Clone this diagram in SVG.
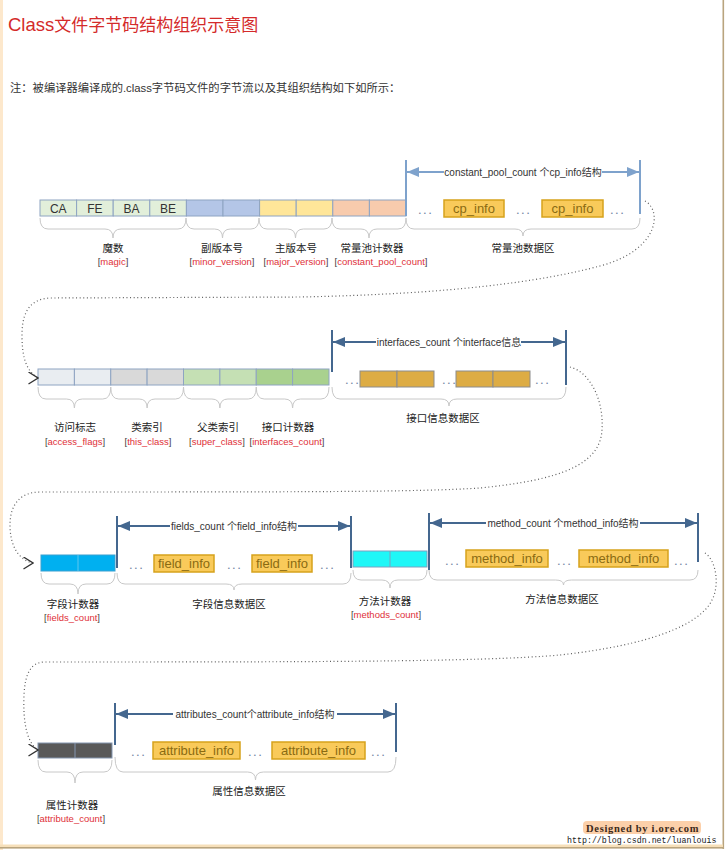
<svg xmlns="http://www.w3.org/2000/svg" width="726" height="850" viewBox="0 0 726 850">
<style>
text{font-family:"Liberation Sans","Noto Sans CJK SC",sans-serif}
.cn{font-size:10.5px;fill:#222;text-anchor:middle}
.rl{font-size:9.5px;fill:#e03038;text-anchor:middle}
.br{fill:#444}
.ann{font-size:10px;fill:#333;text-anchor:middle}
.bt{font-size:12px;fill:#333;text-anchor:middle}
.it{font-size:13px;fill:#8a6a12;text-anchor:middle}
.dots{font-size:13px;fill:#6f83a3;letter-spacing:1.5px}
.cell{stroke:#8ea4c2;stroke-width:1}
.info{fill:#f9ca5a;stroke:#d6a21c;stroke-width:1.5}
.ifb{fill:#ddac44;stroke:#8c8c8c;stroke-width:1}
.brace{fill:none;stroke:#c8c8c8;stroke-width:1}
.v1{stroke:#7ea2cc;stroke-width:2}
.v2{stroke:#44678f;stroke-width:2}
.a1{stroke:#7ea2cc;stroke-width:2;marker-start:url(#ah1);marker-end:url(#ah1)}
.a2{stroke:#44678f;stroke-width:2;marker-start:url(#ah2);marker-end:url(#ah2)}
.dot{fill:none;stroke:#5e5e5e;stroke-width:1.2;stroke-dasharray:1 2.6;marker-end:url(#chev)}
.wm1{font-family:"Liberation Serif",serif;font-weight:bold;font-size:10.5px;fill:#3c2a1a;letter-spacing:0.7px}
.wm2{font-family:"Liberation Mono",monospace;font-size:8.3px;fill:#222}
</style>
<defs>
<marker id="ah1" viewBox="0 0 12 10" refX="12" refY="5" markerWidth="12" markerHeight="10" markerUnits="userSpaceOnUse" orient="auto-start-reverse"><path d="M0,0 L12,5 L0,10 z" fill="#7ea2cc"/></marker>
<marker id="ah2" viewBox="0 0 12 10" refX="12" refY="5" markerWidth="12" markerHeight="10" markerUnits="userSpaceOnUse" orient="auto-start-reverse"><path d="M0,0 L12,5 L0,10 z" fill="#44678f"/></marker>
<marker id="chev" viewBox="0 0 11 13" refX="10" refY="6.5" markerWidth="11" markerHeight="13" markerUnits="userSpaceOnUse" orient="0"><path d="M0.5,0.5 L10,6.5 L0.5,12.5" fill="none" stroke="#333" stroke-width="1.3"/></marker>
</defs>
<rect x="0" y="0" width="726" height="850" fill="#ffffff"/>
<rect x="0" y="0" width="3" height="850" fill="#fde8cc"/>
<rect x="722.5" y="0" width="1.6" height="849" fill="#b9a47e"/>
<rect x="0" y="844.5" width="723" height="2.5" fill="#f6dfb9"/>
<rect x="0" y="847" width="724" height="1.6" fill="#b9a47e"/>

<g id="title"><text x="8" y="31" font-size="17" fill="#d42a2a"><tspan font-size="18.5">Class</tspan>文件字节码结构组织示意图</text></g>
<g id="note"><text x="10" y="92" font-size="11.3" fill="#333">注：被编译器编译成的.class字节码文件的字节流以及其组织结构如下如所示：</text></g>

<g id="magic">
<rect class="cell" x="40" y="200" width="36.6" height="16" fill="#e2efda"/>
<rect class="cell" x="76.6" y="200" width="36.6" height="16" fill="#e2efda"/>
<rect class="cell" x="113.2" y="200" width="36.6" height="16" fill="#e2efda"/>
<rect class="cell" x="149.8" y="200" width="36.6" height="16" fill="#e2efda"/>
<text class="bt" x="58.3" y="212.5">CA</text><text class="bt" x="94.9" y="212.5">FE</text><text class="bt" x="131.5" y="212.5">BA</text><text class="bt" x="168.1" y="212.5">BE</text>
<path class="brace" d="M40 218 Q40 229 48 229 L105 229 Q113 229 113 238 Q113 229 121 229 L178 229 Q186 229 186 218"/>
<text class="cn" x="113" y="252">魔数</text>
<text class="rl" x="113" y="265"><tspan class="br">[</tspan>magic<tspan class="br">]</tspan></text>
</g>
<g id="minor_version">
<rect class="cell" x="186.4" y="200" width="36.6" height="16" fill="#b4c6e7"/>
<rect class="cell" x="223" y="200" width="36.6" height="16" fill="#b4c6e7"/>
<path class="brace" d="M186 218 Q186 229 194 229 L214.5 229 Q222.5 229 222.5 238 Q222.5 229 230.5 229 L251 229 Q259 229 259 218"/>
<text class="cn" x="222" y="252">副版本号</text>
<text class="rl" x="222" y="265"><tspan class="br">[</tspan>minor_version<tspan class="br">]</tspan></text>
</g>
<g id="major_version">
<rect class="cell" x="259.6" y="200" width="36.6" height="16" fill="#ffe699"/>
<rect class="cell" x="296.2" y="200" width="36.6" height="16" fill="#ffe699"/>
<path class="brace" d="M259 218 Q259 229 267 229 L287.5 229 Q295.5 229 295.5 238 Q295.5 229 303.5 229 L324 229 Q332 229 332 218"/>
<text class="cn" x="296" y="252">主版本号</text>
<text class="rl" x="296" y="265"><tspan class="br">[</tspan>major_version<tspan class="br">]</tspan></text>
</g>
<g id="constant_pool_count">
<rect class="cell" x="332.8" y="200" width="36.6" height="16" fill="#f8cbad"/>
<rect class="cell" x="369.4" y="200" width="36.6" height="16" fill="#f8cbad"/>
<path class="brace" d="M332 218 Q332 229 340 229 L361 229 Q369 229 369 238 Q369 229 377 229 L398 229 Q406 229 406 218"/>
<text class="cn" x="372" y="252">常量池计数器</text>
<text class="rl" x="381" y="265"><tspan class="br">[</tspan>constant_pool_count<tspan class="br">]</tspan></text>
</g>
<g id="constant_pool">
<line class="v1" x1="406" y1="160" x2="406" y2="216"/>
<line class="v1" x1="640" y1="160" x2="640" y2="214"/>
<line class="a1" x1="407" y1="172" x2="639" y2="172"/>
<rect x="444" y="165" width="158" height="14" fill="#fff"/>
<text class="ann" x="523" y="176">constant_pool_count 个cp_info结构</text>
<text class="dots" x="418" y="214">...</text>
<rect class="info" x="444" y="200" width="60" height="17"/>
<text class="it" x="474" y="213">cp_info</text>
<text class="dots" x="516" y="214">...</text>
<rect class="info" x="542" y="200" width="61" height="17"/>
<text class="it" x="572.5" y="213">cp_info</text>
<text class="dots" x="610" y="214">...</text>
<path class="brace" d="M406 218 Q406 229 414 229 L515 229 Q523 229 523 236 Q523 229 531 229 L632 229 Q640 229 640 218"/>
<text class="cn" x="523" y="252">常量池数据区</text>
</g>

<g id="access_flags">
<rect class="cell" x="38" y="369" width="36.4" height="16" fill="#e9edf1"/>
<rect class="cell" x="74.4" y="369" width="36.35" height="16" fill="#e9edf1"/>
<path class="brace" d="M38 387 Q38 399 46 399 L66.4 399 Q74.4 399 74.4 408 Q74.4 399 82.4 399 L102.75 399 Q110.75 399 110.75 387"/>
<text class="cn" x="75" y="431">访问标志</text>
<text class="rl" x="75" y="445"><tspan class="br">[</tspan>access_flags<tspan class="br">]</tspan></text>
</g>
<g id="this_class">
<rect class="cell" x="110.75" y="369" width="36.35" height="16" fill="#d9d9d9"/>
<rect class="cell" x="147.1" y="369" width="36.4" height="16" fill="#d9d9d9"/>
<path class="brace" d="M110.75 387 Q110.75 399 118.75 399 L139.1 399 Q147.1 399 147.1 408 Q147.1 399 155.1 399 L175.5 399 Q183.5 399 183.5 387"/>
<text class="cn" x="147" y="431">类索引</text>
<text class="rl" x="148" y="445"><tspan class="br">[</tspan>this_class<tspan class="br">]</tspan></text>
</g>
<g id="super_class">
<rect class="cell" x="183.5" y="369" width="36.4" height="16" fill="#c5e0b4"/>
<rect class="cell" x="219.9" y="369" width="36.35" height="16" fill="#c5e0b4"/>
<path class="brace" d="M183.5 387 Q183.5 399 191.5 399 L211.9 399 Q219.9 399 219.9 408 Q219.9 399 227.9 399 L248.25 399 Q256.25 399 256.25 387"/>
<text class="cn" x="218" y="431">父类索引</text>
<text class="rl" x="217" y="445"><tspan class="br">[</tspan>super_class<tspan class="br">]</tspan></text>
</g>
<g id="interfaces_count">
<rect class="cell" x="256.25" y="369" width="36.35" height="16" fill="#a9d18e"/>
<rect class="cell" x="292.6" y="369" width="36.4" height="16" fill="#a9d18e"/>
<path class="brace" d="M256.25 387 Q256.25 399 264.25 399 L284.6 399 Q292.6 399 292.6 408 Q292.6 399 300.6 399 L321 399 Q329 399 329 387"/>
<text class="cn" x="288" y="431">接口计数器</text>
<text class="rl" x="287" y="445"><tspan class="br">[</tspan>interfaces_count<tspan class="br">]</tspan></text>
</g>
<g id="interfaces">
<line class="v2" x1="332" y1="330" x2="332" y2="372"/>
<line class="v2" x1="566" y1="330" x2="566" y2="385"/>
<line class="a2" x1="333" y1="342" x2="565" y2="342"/>
<rect x="376" y="335" width="145" height="14" fill="#fff"/>
<text class="ann" x="449" y="346">interfaces_count 个interface信息</text>
<text class="dots" x="345" y="384">...</text>
<rect class="ifb" x="360" y="371" width="37" height="16"/>
<rect class="ifb" x="397" y="371" width="37" height="16"/>
<text class="dots" x="442" y="384">...</text>
<rect class="ifb" x="456" y="371" width="37" height="16"/>
<rect class="ifb" x="493" y="371" width="37" height="16"/>
<text class="dots" x="535" y="384">...</text>
<path class="brace" d="M332 387 Q332 399 340 399 L441 399 Q449 399 449 406 Q449 399 457 399 L558 399 Q566 399 566 387"/>
<text class="cn" x="443" y="422">接口信息数据区</text>
</g>

<g id="fields_count">
<rect x="41" y="555" width="74" height="16" fill="#00b0f0" stroke="#3a9fd0" stroke-width="1"/>
<line x1="78" y1="555" x2="78" y2="571" stroke="#5ec6ef" stroke-width="1"/>
<path class="brace" d="M41 573 Q41 584 49 584 L70 584 Q78 584 78 594 Q78 584 86 584 L107 584 Q115 584 115 573"/>
<text class="cn" x="73" y="608">字段计数器</text>
<text class="rl" x="72" y="621"><tspan class="br">[</tspan>fields_count<tspan class="br">]</tspan></text>
</g>
<g id="fields">
<line class="v2" x1="117" y1="516" x2="117" y2="568"/>
<line class="v2" x1="351" y1="516" x2="351" y2="568"/>
<line class="a2" x1="118" y1="526" x2="350" y2="526"/>
<rect x="170" y="519" width="128" height="14" fill="#fff"/>
<text class="ann" x="234" y="530">fields_count 个field_info结构</text>
<text class="dots" x="129" y="569">...</text>
<rect class="info" x="154" y="555" width="60" height="17"/>
<text class="it" x="184" y="568">field_info</text>
<text class="dots" x="227" y="569">...</text>
<rect class="info" x="252" y="555" width="60" height="17"/>
<text class="it" x="282" y="568">field_info</text>
<text class="dots" x="320" y="569">...</text>
<path class="brace" d="M117 573 Q117 584 125 584 L226 584 Q234 584 234 590 Q234 584 242 584 L343 584 Q351 584 351 573"/>
<text class="cn" x="229" y="608">字段信息数据区</text>
</g>
<g id="methods_count">
<rect x="353" y="551" width="74" height="16" fill="#1ff7f7" stroke="#7fa0bf" stroke-width="1"/>
<line x1="390" y1="551" x2="390" y2="567" stroke="#7fa0bf" stroke-width="1"/>
<path class="brace" d="M353 570 Q353 580 361 580 L382 580 Q390 580 390 588 Q390 580 398 580 L419 580 Q427 580 427 570"/>
<text class="cn" x="385" y="605">方法计数器</text>
<text class="rl" x="386" y="618"><tspan class="br">[</tspan>methods_count<tspan class="br">]</tspan></text>
</g>
<g id="methods">
<line class="v2" x1="429" y1="513" x2="429" y2="570"/>
<line class="v2" x1="698" y1="513" x2="698" y2="562"/>
<line class="a2" x1="430" y1="523" x2="697" y2="523"/>
<rect x="486" y="516" width="154" height="14" fill="#fff"/>
<text class="ann" x="563" y="527">method_count 个method_info结构</text>
<text class="dots" x="445" y="565">...</text>
<rect class="info" x="466" y="550" width="82" height="17"/>
<text class="it" x="507" y="563">method_info</text>
<text class="dots" x="557" y="565">...</text>
<rect class="info" x="579" y="550" width="89" height="17"/>
<text class="it" x="623.5" y="563">method_info</text>
<text class="dots" x="674" y="565">...</text>
<path class="brace" d="M429 570 Q429 580 437 580 L555.5 580 Q563.5 580 563.5 585 Q563.5 580 571.5 580 L690 580 Q698 580 698 570"/>
<text class="cn" x="562" y="603">方法信息数据区</text>
</g>

<g id="attribute_count">
<rect x="38" y="743" width="74" height="15" fill="#595959" stroke="#8496b0" stroke-width="1"/>
<line x1="75" y1="743" x2="75" y2="758" stroke="#8496b0" stroke-width="1"/>
<path class="brace" d="M38 760 Q38 772 46 772 L67 772 Q75 772 75 783 Q75 772 83 772 L104 772 Q112 772 112 760"/>
<text class="cn" x="72" y="809">属性计数器</text>
<text class="rl" x="71" y="822"><tspan class="br">[</tspan>attribute_count<tspan class="br">]</tspan></text>
</g>
<g id="attributes">
<line class="v2" x1="115" y1="703" x2="115" y2="745"/>
<line class="v2" x1="396" y1="703" x2="396" y2="752"/>
<line class="a2" x1="116" y1="714" x2="395" y2="714"/>
<rect x="173" y="707" width="164" height="14" fill="#fff"/>
<text class="ann" x="255" y="718">attributes_count个attribute_info结构</text>
<text class="dots" x="131" y="756">...</text>
<rect class="info" x="153" y="742" width="87" height="17"/>
<text class="it" x="196.5" y="755">attribute_info</text>
<text class="dots" x="248" y="756">...</text>
<rect class="info" x="272" y="742" width="93" height="17"/>
<text class="it" x="318.5" y="755">attribute_info</text>
<text class="dots" x="371" y="756">...</text>
<path class="brace" d="M115 757 Q115 772 123 772 L247.5 772 Q255.5 772 255.5 780 Q255.5 772 263.5 772 L388 772 Q396 772 396 757"/>
<text class="cn" x="249" y="795">属性信息数据区</text>
</g>

<g id="connectors">
<path class="dot" d="M645,201 C662,210 660,250 600,266 C540,282 450,294 300,297 L50,298 C28,299 22,315 22,335 C22,355 25,370 38,378"/>
<path class="dot" d="M570,367 C590,372 604,400 602,430 C600,465 560,480 480,488 C420,492 300,492 40,492 C20,492 10,505 10,525 C10,545 18,560 33,563"/>
<path class="dot" d="M705,553 C716,560 720,585 712,600 C700,625 650,645 560,655 C480,662 300,662 45,662 C30,662 25,675 24,695 C23,720 26,742 38,750"/>
</g>

<g id="watermark">
<rect x="583" y="821" width="118" height="13" rx="4" fill="#fcd0aa"/>
<text class="wm1" x="586" y="831.5">Designed by i.ore.com</text>
<text class="wm2" x="567" y="843">http://blog.csdn.net/luanlouis</text>
</g>
</svg>
